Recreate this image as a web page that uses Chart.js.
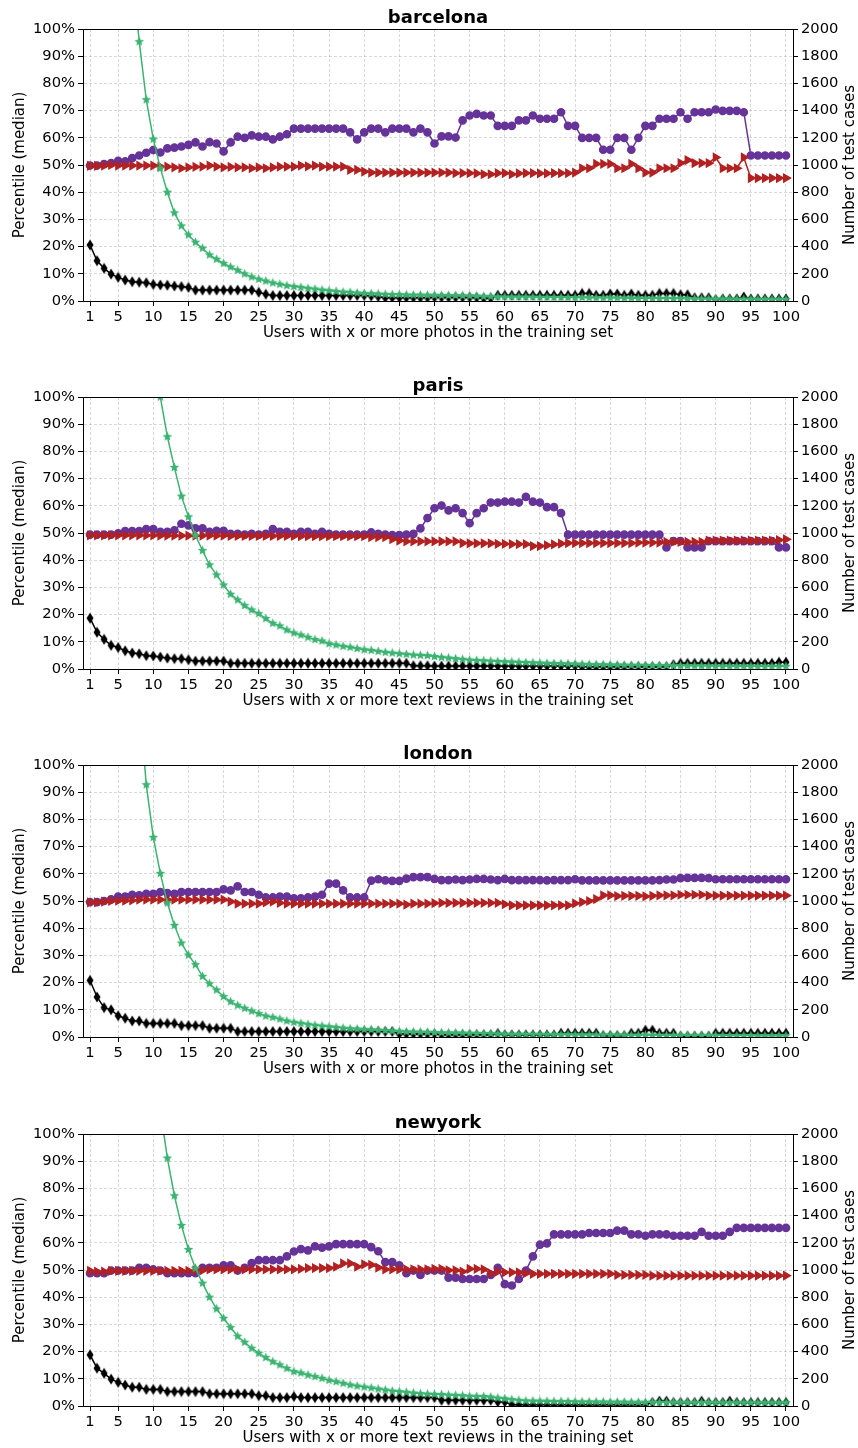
<!DOCTYPE html>
<html>
<head>
<meta charset="utf-8">
<title>Percentile (median) per city</title>
<script src="https://cdn.jsdelivr.net/npm/chart.js@4"></script>
<style>
  body { margin: 0; background: #fff; }
  #wrap { position: relative; width: 858px; height: 1448px; overflow: hidden; }
  #wrap canvas { position: absolute; left: 0; }
</style>
</head>
<body>
<div id="wrap">
  <canvas id="c0" width="858" height="346" style="top:0px"></canvas>
  <canvas id="c1" width="858" height="346" style="top:368px"></canvas>
  <canvas id="c2" width="858" height="346" style="top:736px"></canvas>
  <canvas id="c3" width="858" height="346" style="top:1105px"></canvas>
</div>
<script>
// x = "users with x or more ..."
const xValues = [
  1, 2, 3, 4, 5, 6, 7, 8, 9, 10, 11, 12, 13, 14, 15, 16, 17, 18, 19, 20,
  21, 22, 23, 24, 25, 26, 27, 28, 29, 30, 31, 32, 33, 34, 35, 36, 37, 38, 39, 40,
  41, 42, 43, 44, 45, 46, 47, 48, 49, 50, 51, 52, 53, 54, 55, 56, 57, 58, 59, 60,
  61, 62, 63, 64, 65, 66, 67, 68, 69, 70, 71, 72, 73, 74, 75, 76, 77, 78, 79, 80,
  81, 82, 83, 84, 85, 86, 87, 88, 89, 90, 91, 92, 93, 94, 95, 96, 97, 98, 99, 100
];
const xTicks = [1, 5, 10, 15, 20, 25, 30, 35, 40, 45, 50, 55, 60, 65, 70, 75, 80, 85, 90, 95, 100];
const pctTicks = [0, 10, 20, 30, 40, 50, 60, 70, 80, 90, 100];
const caseTicks = [0, 200, 400, 600, 800, 1000, 1200, 1400, 1600, 1800, 2000];

// barcelona
const bcnPurple = [
  49.8, 49.8, 50.3, 50.7, 51.5, 51.3, 52.5, 53.5, 54.5, 55.5,
  54.6, 56.1, 56.4, 56.8, 57.4, 58.3, 56.8, 58.4, 57.9, 55.0,
  58.3, 60.4, 60.0, 60.9, 60.4, 60.4, 59.4, 60.4, 61.3, 63.4,
  63.4, 63.4, 63.4, 63.4, 63.4, 63.4, 63.4, 62.0, 59.4, 62.0,
  63.4, 63.4, 62.0, 63.4, 63.4, 63.4, 62.0, 63.4, 62.0, 57.9,
  60.5, 60.5, 60.1, 66.4, 68.2, 68.8, 68.2, 68.2, 64.4, 64.4,
  64.4, 66.4, 66.4, 68.2, 67.0, 67.0, 67.0, 69.4, 64.4, 64.4,
  60.0, 60.0, 60.0, 55.6, 55.6, 60.0, 60.0, 55.6, 60.0, 64.4,
  64.4, 67.0, 67.0, 67.0, 69.4, 67.0, 69.4, 69.4, 69.4, 70.4,
  69.9, 69.9, 69.9, 69.4, 53.5, 53.5, 53.5, 53.5, 53.5, 53.5
];
const bcnRed = [
  49.7, 49.7, 49.8, 50.0, 49.8, 49.8, 49.8, 49.8, 49.8, 49.8,
  49.4, 49.4, 49.1, 48.8, 49.1, 49.3, 49.4, 49.8, 49.4, 49.1,
  49.3, 49.1, 49.1, 48.8, 49.1, 48.8, 49.1, 49.4, 49.4, 49.4,
  49.8, 49.5, 49.8, 49.4, 49.4, 49.4, 49.4, 48.2, 48.2, 47.6,
  47.2, 47.2, 47.2, 47.2, 47.2, 47.2, 47.2, 47.2, 47.2, 47.2,
  47.2, 47.2, 47.0, 47.0, 47.0, 46.9, 46.6, 46.6, 47.0, 47.0,
  46.6, 46.9, 47.0, 47.0, 46.9, 46.9, 47.0, 47.0, 47.0, 47.2,
  48.8, 48.8, 50.4, 50.4, 50.4, 48.8, 48.8, 50.4, 48.8, 47.2,
  47.2, 48.8, 48.8, 48.8, 50.7, 51.8, 50.7, 50.7, 50.7, 52.8,
  48.8, 48.8, 48.8, 52.8, 45.2, 45.2, 45.2, 45.2, 45.2, 45.2
];
const bcnBlack = [
  20.6, 14.8, 12.0, 9.9, 8.7, 7.7, 7.1, 6.9, 6.7, 6.1,
  5.9, 5.8, 5.5, 5.3, 5.0, 4.0, 4.0, 4.0, 4.0, 4.0,
  4.0, 4.0, 4.0, 4.0, 3.2, 2.5, 2.0, 2.0, 2.0, 2.0,
  2.0, 2.0, 2.0, 2.0, 2.0, 2.0, 2.0, 2.0, 2.0, 2.0,
  1.8, 1.6, 1.2, 1.2, 1.2, 1.2, 1.2, 1.2, 1.2, 1.3,
  1.3, 1.3, 1.3, 1.3, 1.3, 1.2, 1.0, 1.0, 2.1, 2.1,
  2.1, 2.1, 2.1, 2.1, 2.1, 2.1, 2.1, 2.1, 2.1, 2.1,
  2.8, 2.8, 2.1, 2.1, 2.6, 2.6, 2.1, 2.6, 2.1, 2.1,
  2.1, 2.8, 2.8, 2.8, 2.3, 2.3, 1.2, 1.2, 1.2, 0.5,
  0.8, 0.8, 0.8, 1.5, 0.8, 0.8, 0.8, 0.8, 0.8, 0.8
];
const bcnCases = [
  16000, 10000, 7000, 5200, 4000, 3100, 2420, 1907, 1480, 1190,
  977, 800, 648, 552, 486, 432, 388, 339, 307, 277,
  250, 226, 199, 177, 160, 147, 133, 123, 113, 106,
  101, 93, 88, 81, 76, 71, 66, 64, 59, 56,
  54, 52, 49, 47, 47, 45, 44, 44, 43, 42,
  41, 40, 40, 39, 38, 37, 34, 34, 31, 30,
  30, 30, 29, 29, 28, 28, 27, 27, 26, 25,
  25, 24, 24, 23, 23, 22, 22, 21, 21, 20,
  20, 19, 19, 18, 18, 17, 17, 16, 16, 15,
  15, 15, 14, 14, 14, 13, 13, 13, 12, 12
];

// paris
const parisPurple = [
  49.4, 49.4, 49.4, 49.4, 49.9, 50.7, 50.7, 50.7, 51.4, 51.4,
  50.4, 50.4, 51.0, 53.4, 52.8, 51.7, 51.7, 50.4, 50.8, 50.8,
  49.7, 49.7, 49.4, 49.7, 49.4, 49.7, 51.4, 50.4, 50.4, 49.7,
  50.4, 50.4, 49.7, 50.4, 49.7, 49.4, 49.4, 49.4, 49.4, 49.4,
  50.2, 49.7, 49.4, 49.2, 49.2, 49.4, 49.7, 51.7, 55.5, 59.1,
  60.1, 58.3, 59.1, 57.3, 53.6, 57.3, 59.1, 61.2, 61.2, 61.5,
  61.5, 61.2, 63.3, 61.5, 61.2, 59.5, 59.5, 57.3, 49.4, 49.4,
  49.4, 49.4, 49.4, 49.4, 49.4, 49.4, 49.4, 49.4, 49.4, 49.4,
  49.4, 49.4, 44.7, 47.0, 47.0, 44.7, 44.7, 44.7, 47.0, 47.0,
  47.0, 47.0, 47.0, 47.0, 47.0, 47.0, 47.0, 47.0, 44.7, 44.7
];
const parisRed = [
  49.1, 49.1, 49.1, 49.1, 49.1, 49.1, 49.1, 49.1, 49.1, 49.1,
  49.0, 49.0, 49.0, 49.0, 49.0, 49.0, 49.0, 49.0, 49.0, 49.0,
  48.9, 48.9, 48.9, 48.9, 48.9, 48.9, 48.9, 48.9, 48.9, 48.9,
  48.8, 48.8, 48.8, 48.8, 48.8, 48.8, 48.8, 48.8, 48.8, 48.8,
  48.5, 48.5, 48.5, 47.7, 47.2, 46.9, 46.9, 46.9, 46.9, 46.9,
  46.9, 46.9, 46.9, 46.3, 46.2, 46.2, 46.2, 46.2, 46.0, 46.0,
  45.9, 45.9, 45.9, 45.2, 45.2, 45.5, 45.8, 46.1, 46.3, 46.3,
  46.3, 46.3, 46.3, 46.3, 46.3, 46.3, 46.3, 46.3, 46.5, 46.5,
  46.5, 46.5, 46.7, 46.7, 46.7, 46.7, 46.7, 46.7, 47.2, 47.2,
  47.2, 47.2, 47.2, 47.2, 47.2, 47.2, 47.2, 47.2, 47.4, 47.7
];
const parisBlack = [
  18.7, 13.5, 10.9, 8.7, 7.9, 6.7, 5.9, 5.6, 4.9, 4.8,
  4.4, 4.0, 3.8, 3.8, 3.4, 2.9, 2.9, 2.9, 2.9, 2.9,
  2.1, 2.1, 2.1, 2.1, 2.1, 2.1, 2.1, 2.1, 2.1, 2.1,
  2.1, 2.1, 2.1, 2.1, 2.1, 2.1, 2.1, 2.1, 2.1, 2.1,
  2.1, 2.1, 2.1, 2.1, 2.1, 2.1, 1.2, 1.2, 1.2, 1.1,
  1.1, 1.1, 1.1, 1.1, 1.1, 1.1, 1.1, 1.1, 1.1, 1.1,
  1.1, 1.1, 1.1, 1.1, 1.1, 1.1, 1.1, 1.1, 1.1, 1.1,
  0.8, 0.8, 0.8, 0.8, 0.8, 0.8, 0.8, 0.8, 0.8, 0.8,
  0.8, 0.8, 0.8, 1.6, 2.1, 2.1, 2.1, 2.1, 2.1, 2.1,
  2.1, 2.1, 2.1, 2.1, 2.1, 2.1, 2.1, 2.1, 2.5, 2.5
];
const parisCases = [
  22000, 15000, 11000, 8400, 6600, 5300, 4300, 3500, 2900, 2400,
  2000, 1708, 1482, 1271, 1119, 982, 871, 766, 692, 618,
  550, 508, 466, 434, 407, 371, 336, 317, 287, 265,
  250, 233, 216, 206, 186, 177, 167, 160, 150, 142,
  137, 130, 123, 118, 113, 108, 103, 101, 98, 92,
  86, 81, 76, 71, 66, 63, 61, 58, 56, 54,
  52, 50, 48, 46, 44, 42, 41, 40, 38, 37,
  35, 34, 33, 32, 31, 30, 29, 28, 28, 27,
  26, 26, 25, 25, 24, 24, 23, 23, 22, 22,
  22, 21, 21, 21, 21, 20, 20, 20, 20, 20
];

// london
const londonPurple = [
  49.6, 49.6, 50.0, 50.6, 51.6, 51.6, 52.3, 52.1, 52.6, 52.6,
  53.3, 52.9, 52.6, 53.3, 53.3, 53.3, 53.3, 53.3, 53.3, 54.3,
  53.9, 55.4, 53.3, 53.3, 52.3, 51.3, 51.3, 51.6, 51.6, 51.0,
  51.0, 51.3, 51.6, 52.3, 56.4, 56.4, 53.9, 51.3, 51.3, 51.3,
  57.5, 58.0, 57.6, 57.4, 57.4, 58.2, 58.8, 58.8, 58.8, 58.1,
  57.7, 57.7, 57.9, 57.7, 57.9, 58.1, 58.1, 57.9, 57.7, 58.1,
  57.7, 57.7, 57.7, 57.7, 57.7, 57.6, 57.7, 57.7, 57.7, 58.0,
  57.6, 57.6, 57.6, 57.6, 57.6, 57.6, 57.6, 57.6, 57.6, 57.6,
  57.6, 57.7, 57.9, 57.9, 58.4, 58.5, 58.5, 58.5, 58.4, 58.0,
  58.0, 58.0, 58.0, 58.0, 58.0, 58.0, 58.0, 58.0, 58.0, 58.0
];
const londonRed = [
  49.5, 49.5, 49.8, 50.0, 50.1, 50.1, 50.2, 50.5, 50.5, 50.5,
  50.5, 50.5, 50.5, 50.5, 50.5, 50.5, 50.5, 50.5, 50.5, 50.5,
  49.8, 49.0, 49.0, 49.0, 49.0, 49.5, 49.8, 49.3, 49.0, 49.0,
  49.0, 49.0, 49.0, 49.0, 49.0, 49.0, 49.0, 49.0, 49.0, 49.0,
  49.0, 49.0, 49.0, 49.0, 49.0, 48.7, 49.0, 49.0, 49.0, 49.2,
  49.3, 49.3, 49.3, 49.3, 49.3, 49.3, 49.3, 49.3, 49.3, 48.8,
  48.4, 48.4, 48.4, 48.4, 48.4, 48.4, 48.4, 48.4, 48.4, 49.1,
  49.6, 50.0, 50.7, 52.1, 52.1, 51.8, 51.9, 51.9, 51.9, 51.7,
  51.9, 52.1, 52.1, 52.1, 52.3, 52.3, 52.3, 52.3, 52.0, 52.0,
  52.0, 52.0, 52.0, 52.0, 52.0, 52.0, 52.0, 52.0, 52.0, 52.0
];
const londonBlack = [
  20.8, 14.7, 10.8, 10.0, 7.8, 6.9, 5.9, 5.9, 5.0, 5.0,
  5.0, 5.0, 5.0, 4.2, 4.2, 4.2, 4.2, 3.2, 3.2, 3.2,
  3.2, 2.0, 2.0, 2.0, 2.0, 2.0, 2.0, 2.0, 2.0, 2.0,
  2.0, 2.0, 2.0, 2.0, 2.0, 2.0, 2.0, 2.0, 2.0, 2.0,
  2.0, 2.0, 2.0, 2.0, 1.1, 1.1, 1.1, 1.1, 1.1, 1.1,
  0.8, 0.8, 0.8, 0.8, 0.8, 0.8, 0.8, 0.8, 1.3, 0.8,
  0.8, 0.8, 0.8, 0.8, 0.8, 0.8, 0.8, 1.4, 1.4, 1.4,
  1.4, 1.4, 1.4, 0.5, 0.5, 0.5, 0.5, 1.4, 1.4, 2.5,
  2.5, 1.4, 1.4, 1.4, 0.3, 0.3, 0.3, 0.3, 0.3, 1.4,
  1.4, 1.4, 1.4, 1.4, 1.4, 1.4, 1.4, 1.4, 1.4, 1.4
];
const londonCases = [
  25000, 15000, 10000, 7000, 5200, 4100, 3200, 2485, 1855, 1468,
  1203, 985, 821, 691, 603, 532, 446, 392, 346, 297,
  260, 233, 211, 191, 172, 154, 145, 132, 118, 108,
  101, 93, 86, 81, 76, 71, 66, 61, 59, 56,
  54, 51, 47, 44, 42, 39, 37, 36, 35, 34,
  32, 31, 30, 29, 28, 27, 26, 25, 24, 22,
  21, 21, 20, 20, 20, 19, 19, 18, 18, 17,
  17, 17, 16, 16, 16, 15, 15, 14, 14, 14,
  13, 13, 13, 13, 12, 12, 12, 12, 12, 12,
  11, 11, 11, 11, 11, 10, 10, 10, 10, 10
];

// newyork
const nyPurple = [
  48.8, 48.8, 48.8, 49.8, 49.8, 49.8, 49.8, 50.8, 50.8, 50.2,
  49.8, 48.8, 48.8, 48.8, 48.8, 48.8, 50.8, 50.8, 50.8, 51.7,
  51.7, 49.8, 50.8, 52.5, 53.6, 53.6, 53.6, 53.6, 55.0, 56.8,
  57.7, 57.2, 58.7, 58.2, 58.7, 59.5, 59.5, 59.5, 59.5, 59.5,
  58.4, 56.9, 52.9, 52.9, 51.7, 48.8, 49.8, 48.2, 49.8, 49.8,
  49.8, 47.2, 47.2, 46.7, 46.7, 46.7, 46.7, 48.2, 50.8, 44.8,
  44.3, 46.7, 49.8, 55.0, 59.3, 59.8, 63.1, 63.1, 63.1, 63.1,
  63.1, 63.6, 63.6, 63.6, 63.6, 64.5, 64.5, 63.1, 63.1, 62.6,
  63.1, 63.1, 63.1, 62.6, 62.6, 62.6, 62.6, 64.0, 62.6, 62.6,
  62.6, 64.0, 65.5, 65.5, 65.5, 65.5, 65.5, 65.5, 65.5, 65.5
];
const nyRed = [
  49.7, 49.4, 49.4, 49.7, 49.7, 49.7, 49.7, 49.7, 49.7, 49.7,
  49.7, 49.7, 49.7, 49.7, 49.7, 49.9, 49.9, 50.2, 50.2, 50.2,
  50.2, 50.2, 50.2, 50.2, 50.2, 50.2, 50.2, 50.2, 50.2, 50.2,
  50.4, 50.7, 50.7, 50.7, 50.7, 51.2, 52.4, 52.4, 51.2, 52.1,
  51.9, 50.9, 50.2, 50.2, 50.2, 50.2, 50.2, 50.2, 50.2, 50.4,
  50.4, 49.9, 49.9, 49.4, 50.4, 50.4, 50.2, 48.8, 49.4, 49.1,
  49.1, 49.1, 48.8, 48.6, 48.6, 48.6, 48.6, 48.6, 48.6, 48.6,
  48.6, 48.6, 48.6, 48.6, 48.6, 48.2, 48.2, 48.2, 48.2, 48.2,
  47.9, 47.9, 47.9, 47.9, 47.9, 47.9, 47.9, 47.9, 47.9, 47.9,
  47.9, 47.9, 47.9, 47.9, 47.9, 47.9, 47.9, 47.9, 47.9, 47.9
];
const nyBlack = [
  18.8, 13.9, 12.0, 9.9, 8.7, 7.7, 6.9, 6.9, 6.1, 6.1,
  6.1, 5.3, 5.3, 5.3, 5.3, 5.3, 5.3, 4.5, 4.5, 4.5,
  4.5, 4.5, 4.5, 4.5, 3.8, 3.8, 3.1, 3.1, 3.1, 3.5,
  3.1, 3.1, 3.1, 3.1, 3.1, 3.1, 3.1, 3.1, 3.1, 3.1,
  3.1, 3.1, 3.1, 3.1, 3.1, 3.1, 3.1, 3.1, 3.1, 3.1,
  2.1, 2.1, 2.1, 2.1, 2.1, 2.1, 2.1, 2.1, 1.5, 1.5,
  0.5, 0.5, 0.5, 0.5, 0.5, 0.5, 0.5, 0.5, 0.5, 0.5,
  0.5, 0.5, 0.5, 0.5, 0.5, 0.5, 0.5, 0.5, 0.5, 0.5,
  1.3, 1.8, 1.8, 1.3, 1.3, 1.3, 1.3, 1.8, 1.3, 1.3,
  1.3, 1.8, 1.3, 1.3, 1.3, 1.3, 1.3, 1.3, 1.3, 1.3
];
const nyCases = [
  30000, 18000, 12000, 8500, 6400, 5000, 4100, 3500, 3000, 2600,
  2180, 1823, 1546, 1328, 1151, 1013, 903, 800, 714, 645,
  577, 513, 469, 425, 388, 356, 326, 302, 277, 253,
  243, 228, 216, 204, 189, 179, 167, 155, 147, 140,
  133, 125, 118, 110, 106, 101, 96, 91, 88, 86,
  85, 81, 79, 76, 72, 71, 70, 66, 59, 54,
  47, 42, 38, 37, 36, 35, 34, 34, 33, 32,
  31, 31, 30, 30, 29, 29, 29, 28, 28, 28,
  27, 27, 27, 27, 27, 26, 26, 26, 26, 26,
  25, 25, 25, 25, 25, 25, 25, 25, 25, 25
];

const PURPLE = '#663399';
const RED = '#b22222';
const GREEN = '#3cb371';
const GRID = 'rgba(0,0,0,0.15)';
const FONT = "'DejaVu Sans', sans-serif";

Chart.defaults.font.family = FONT;
Chart.defaults.color = '#000';

// matplotlib 'd' marker, Chart.js has no thin diamond
function thinDiamond() {
  const c = document.createElement('canvas');
  c.width = 8; c.height = 12;
  const g = c.getContext('2d');
  g.fillStyle = '#000';
  g.beginPath();
  g.moveTo(4, 0.5); g.lineTo(7.5, 6); g.lineTo(4, 11.5); g.lineTo(0.5, 6);
  g.closePath();
  g.fill();
  return c;
}

// filled '*' marker
function starMarker(color) {
  const c = document.createElement('canvas');
  c.width = 11; c.height = 11;
  const g = c.getContext('2d');
  g.fillStyle = color;
  g.beginPath();
  for (let i = 0; i < 10; i++) {
    const r = i % 2 ? 2.3 : 5;
    const a = -Math.PI / 2 + i * Math.PI / 5;
    g.lineTo(5.5 + r * Math.cos(a), 5.5 + r * Math.sin(a));
  }
  g.closePath();
  g.fill();
  return c;
}

const diamondImg = thinDiamond();
const starImg = starMarker(GREEN);

// top spine + right axis label (reads bottom-to-top like matplotlib)
const framePlugin = {
  id: 'frame',
  afterDraw(chart) {
    const { ctx, chartArea: a } = chart;
    ctx.save();
    ctx.strokeStyle = '#000';
    ctx.lineWidth = 1;
    ctx.beginPath();
    const y = Math.floor(a.top) + 0.5;
    ctx.moveTo(a.left, y);
    ctx.lineTo(a.right + 1, y);
    ctx.stroke();
    ctx.translate(850, (a.top + a.bottom) / 2);
    ctx.rotate(-Math.PI / 2);
    ctx.textAlign = 'center';
    ctx.textBaseline = 'middle';
    ctx.fillStyle = '#000';
    ctx.font = '15px ' + FONT;
    ctx.fillText('Number of test cases', 0, 0);
    ctx.restore();
  }
};

const pts = arr => xValues.map((x, i) => ({ x: x, y: arr[i] }));

function makePanel(id, city, xLabel, purple, red, black, cases) {
  new Chart(document.getElementById(id), {
    type: 'line',
    data: {
      datasets: [
        {
          data: pts(purple), borderColor: PURPLE, backgroundColor: PURPLE,
          borderWidth: 1.5, pointStyle: 'circle', pointRadius: 3.6,
          yAxisID: 'y', order: 4, clip: 0
        },
        {
          data: pts(red), borderColor: RED, backgroundColor: RED,
          borderWidth: 1.5, pointStyle: 'triangle', pointRotation: 90, pointRadius: 4.4,
          yAxisID: 'y', order: 3, clip: 0
        },
        {
          data: pts(black), borderColor: '#000', backgroundColor: '#000',
          borderWidth: 1.5, pointStyle: diamondImg, pointRadius: 5,
          yAxisID: 'y', order: 2, clip: 0
        },
        {
          data: pts(cases), borderColor: GREEN, backgroundColor: GREEN,
          borderWidth: 1.5, pointStyle: starImg, pointRadius: 4,
          yAxisID: 'y1', order: 1, clip: 0
        }
      ]
    },
    options: {
      responsive: false,
      animation: false,
      devicePixelRatio: 1,
      layout: { padding: 0 },
      plugins: {
        legend: { display: false },
        tooltip: { enabled: false },
        title: {
          display: true,
          text: city,
          fullSize: false,
          font: { size: 18, weight: 'bold' },
          padding: { top: 7.4, bottom: 0 }
        }
      },
      scales: {
        x: {
          type: 'linear',
          min: 0,
          max: 101,
          afterBuildTicks: s => { s.ticks = xTicks.map(v => ({ value: v })); },
          afterFit: s => { s.height = 45; },
          ticks: { font: { size: 14.7 }, padding: 2, maxRotation: 0, autoSkip: false },
          grid: { color: GRID, tickColor: '#000', tickLength: 5, tickWidth: 1 },
          border: { color: '#000', width: 1, dash: [3, 2] },
          title: { display: true, text: xLabel, font: { size: 15 }, padding: { top: 0, bottom: 4 } }
        },
        y: {
          position: 'left',
          min: 0,
          max: 100,
          afterBuildTicks: s => { s.ticks = pctTicks.map(v => ({ value: v })); },
          afterFit: s => { s.width = 83; },
          ticks: { font: { size: 14.7 }, padding: 3, callback: v => v + '%' },
          grid: { color: GRID, tickColor: '#000', tickLength: 5, tickWidth: 1 },
          border: { color: '#000', width: 1, dash: [3, 2] },
          title: { display: true, text: 'Percentile (median)', font: { size: 15 }, padding: { top: 11, bottom: 0 } }
        },
        y1: {
          position: 'right',
          min: 0,
          max: 2000,
          afterBuildTicks: s => { s.ticks = caseTicks.map(v => ({ value: v })); },
          afterFit: s => { s.width = 65; },
          ticks: { font: { size: 14.7 }, padding: 3, callback: v => String(v) },
          grid: { drawOnChartArea: false, color: GRID, tickColor: '#000', tickLength: 5, tickWidth: 1 },
          border: { color: '#000', width: 1 }
        }
      }
    },
    plugins: [framePlugin]
  });
}

makePanel('c0', 'barcelona', 'Users with x or more photos in the training set', bcnPurple, bcnRed, bcnBlack, bcnCases);
makePanel('c1', 'paris', 'Users with x or more text reviews in the training set', parisPurple, parisRed, parisBlack, parisCases);
makePanel('c2', 'london', 'Users with x or more photos in the training set', londonPurple, londonRed, londonBlack, londonCases);
makePanel('c3', 'newyork', 'Users with x or more text reviews in the training set', nyPurple, nyRed, nyBlack, nyCases);
</script>
</body>
</html>
